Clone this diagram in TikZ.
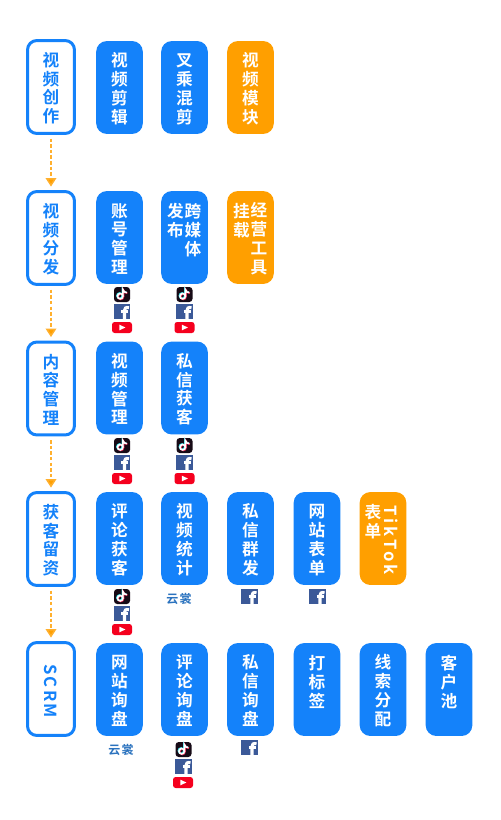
\documentclass[tikz,border=0pt]{standalone}
\usepackage{fontspec}
\setmainfont{Noto Sans CJK SC}[BoldFont={Noto Sans CJK SC Bold}]
\usetikzlibrary{arrows.meta}
\definecolor{mainblue}{HTML}{1482FA}
\definecolor{mainorange}{HTML}{FF9F00}
\definecolor{arrorange}{HTML}{FFB02E}
\definecolor{fbblue}{HTML}{3B5998}
\definecolor{ytred}{HTML}{F5001E}
\definecolor{ttblack}{HTML}{160A16}
\definecolor{ttcyan}{HTML}{30E0E8}
\definecolor{ttred}{HTML}{F0305A}
\definecolor{yunblue}{HTML}{2A72BE}
\tikzset{
    x=0.75pt,y=-0.75pt,
    boxtext/.style={font=\bfseries\fontsize{12.5pt}{14.1pt}\selectfont,align=center,inner sep=0pt,execute at begin node={\rule{0pt}{54.6pt}}},
    rottext/.style={font=\bfseries\fontsize{12.5pt}{14.1pt}\selectfont,inner sep=0pt,rotate=-90},
    stagebox/.style={boxtext,draw=mainblue,line width=2.25pt,fill=white,text=mainblue,rounded corners=7pt,minimum width=35.2pt,minimum height=69.7pt},
    bluebox/.style={boxtext,fill=mainblue,text=white,rounded corners=8pt,minimum width=35pt,minimum height=69.7pt},
    orangebox/.style={bluebox,fill=mainorange},
    whitetext/.style={boxtext,text=white},
    flowarrow/.style={draw=arrorange,line width=1.1pt,dash pattern=on 2.6pt off 1.6pt,-{Triangle[length=6.4pt,width=8pt,fill=mainorange]},shorten <=2.8pt,shorten >=2.6pt},
    yuntext/.style={font=\bfseries\fontsize{9pt}{10pt}\selectfont,text=yunblue,inner sep=0pt},
    tiktokicon/.pic={
        \fill[ttblack,rounded corners=2.4pt] (-8,-7.5) rectangle (8,7.5);
        \draw[ttcyan,line width=1.2pt] (-2.4,1.2) circle (2.7);
        \draw[ttcyan,line width=1.2pt] (0.3,1.2) -- (0.3,-5.4) .. controls (0.8,-3.2) and (2.4,-2.4) .. (4.2,-2.4);
        \draw[ttred,line width=1.2pt] (-1.2,2.2) circle (2.7);
        \draw[ttred,line width=1.2pt] (1.5,2.2) -- (1.5,-4.4) .. controls (2,-2.2) and (3.6,-1.4) .. (5.4,-1.4);
        \draw[white,line width=1.2pt] (-1.8,1.7) circle (2.7);
        \draw[white,line width=1.2pt] (0.9,1.7) -- (0.9,-4.9) .. controls (1.4,-2.7) and (3,-1.9) .. (4.8,-1.9);
    },
    fbicon/.pic={
        \fill[fbblue] (-8.2,-7.5) rectangle (8.2,7.5);
        \draw[white,line width=2.3pt] (7,-3.8) .. controls (3.5,-4.6) and (2.5,-3) .. (2.5,-1) -- (2.5,7.5);
        \draw[white,line width=1.9pt] (-0.6,-0.2) -- (6.4,-0.2);
    },
    yticon/.pic={
        \fill[ytred,rounded corners=2pt] (-10,-5.5) rectangle (10,5.5);
        \fill[white] (-2.6,-2.8) -- (3.4,0) -- (-2.6,2.8) -- cycle;
    }
}
\begin{document}
\begin{tikzpicture}
    \useasboundingbox (0,0) rectangle (500,820);

    % left column
    \node[stagebox] (create) at (51,87) {视\\频\\创\\作};
    \node[stagebox] (publish) at (51,238) {视\\频\\分\\发};
    \node[stagebox] (content) at (51,388.5) {内\\容\\管\\理};
    \node[stagebox] (leads) at (51,539) {获\\客\\留\\资};
    \node[stagebox] (scrm) at (51,689) {};
    \node[rottext,text=mainblue] (scrmtext) at (51,691) {\addfontfeature{LetterSpace=14}SCRM};

    \draw[flowarrow] (create.south) -- (publish.north);
    \draw[flowarrow] (publish.south) -- (content.north);
    \draw[flowarrow] (content.south) -- (leads.north);
    \draw[flowarrow] (leads.south) -- (scrm.north);

    % row 1
    \node[bluebox] (clip) at (119.5,87.5) {视\\频\\剪\\辑};
    \node[bluebox] (mix) at (184.5,87.5) {叉\\乘\\混\\剪};
    \node[orangebox] (module) at (250.5,87.5) {视\\频\\模\\块};

    % row 2
    \node[bluebox] (account) at (119.5,237.5) {账\\号\\管\\理};
    \node[bluebox] (cross) at (184.5,237.5) {};
    \node[whitetext] (crossa) at (193,237.5) {跨\\媒\\体\\~};
    \node[whitetext] (crossb) at (175.5,237.5) {发\\布\\~\\~};
    \node[orangebox] (tools) at (250.5,237.5) {};
    \node[whitetext] (toolsa) at (259,237.5) {经\\营\\工\\具};
    \node[whitetext] (toolsb) at (241.5,237.5) {挂\\载\\~\\~};

    % row 3
    \node[bluebox] (videos) at (119.5,388) {视\\频\\管\\理};
    \node[bluebox] (privlead) at (184.5,388) {私\\信\\获\\客};

    % row 4
    \node[bluebox] (comment) at (119.5,538.5) {评\\论\\获\\客};
    \node[bluebox] (stats) at (184.5,538.5) {视\\频\\统\\计};
    \node[bluebox] (group) at (250.5,538.5) {私\\信\\群\\发};
    \node[bluebox] (siteform) at (317,538.5) {网\\站\\表\\单};
    \node[orangebox] (ttform) at (383,538.5) {};
    \node[rottext,text=white] (ttforma) at (391,540) {\addfontfeature{LetterSpace=18}TikTok};
    \node[whitetext] (ttformb) at (373,538.5) {表\\单\\~\\~};

    % row 5
    \node[bluebox] (siteask) at (119.5,689.5) {网\\站\\询\\盘};
    \node[bluebox] (commentask) at (184.5,689.5) {评\\论\\询\\盘};
    \node[bluebox] (privask) at (250.5,689.5) {私\\信\\询\\盘};
    \node[bluebox] (tag) at (317,689.5) {打\\标\\签\\~};
    \node[bluebox] (assign) at (383,689.5) {线\\索\\分\\配};
    \node[bluebox] (pool) at (449,689.5) {客\\户\\池\\~};

    % icons
    \pic at (122,294.5) {tiktokicon};
    \pic at (122,311.5) {fbicon};
    \pic at (122,327.5) {yticon};
    \pic at (184.5,294.5) {tiktokicon};
    \pic at (184.5,311.5) {fbicon};
    \pic at (184.5,327.5) {yticon};

    \pic at (122,445.5) {tiktokicon};
    \pic at (122,462.5) {fbicon};
    \pic at (122,478.5) {yticon};
    \pic at (184.5,445.5) {tiktokicon};
    \pic at (184.5,462.5) {fbicon};
    \pic at (184.5,478.5) {yticon};

    \pic at (122,596.5) {tiktokicon};
    \pic at (122,613.5) {fbicon};
    \pic at (122,629.5) {yticon};
    \node[yuntext] (yuna) at (179,598.5) {\addfontfeature{LetterSpace=12}云裳};
    \pic at (249.5,596.5) {fbicon};
    \pic at (317.5,596.5) {fbicon};

    \node[yuntext] (yunb) at (121,749.5) {\addfontfeature{LetterSpace=12}云裳};
    \pic at (183.5,749.5) {tiktokicon};
    \pic at (183.5,766.5) {fbicon};
    \pic at (183,782.5) {yticon};
    \pic at (249.5,747.5) {fbicon};
\end{tikzpicture}
\end{document}
